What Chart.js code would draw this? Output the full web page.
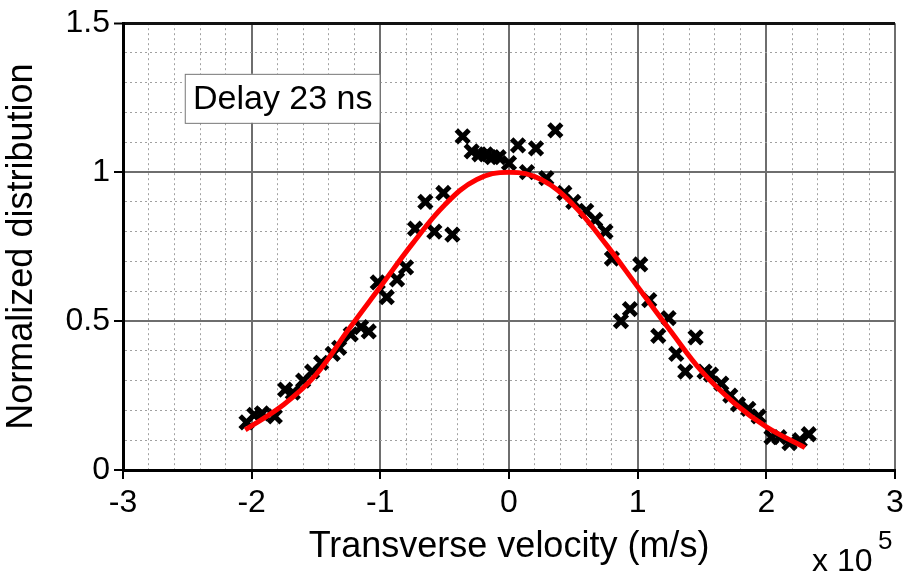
<!DOCTYPE html>
<html>
<head>
<meta charset="utf-8">
<script src="https://cdn.jsdelivr.net/npm/chart.js@4"></script>
<style>
  body { margin: 0; background: #fff; }
  canvas { display: block; }
</style>
</head>
<body>
<canvas id="velChart" width="909" height="575"></canvas>
<script>
// measured points (velocity in units of 1e5 m/s)
const pointX = [-2.04, -1.98, -1.92, -1.82, -1.74, -1.68, -1.60, -1.53, -1.46, -1.37, -1.32, -1.23, -1.15, -1.09,
    -1.02, -0.95, -0.87, -0.80, -0.73, -0.65, -0.58, -0.51, -0.44, -0.36, -0.29, -0.23, -0.18, -0.13, -0.08, 0.00,
    0.07, 0.14, 0.21, 0.29, 0.36, 0.43, 0.50, 0.60, 0.67, 0.75, 0.80, 0.87, 0.94, 1.02, 1.09, 1.16, 1.24, 1.30,
    1.37, 1.45, 1.52, 1.57, 1.65, 1.72, 1.78, 1.86, 1.94, 2.04, 2.10, 2.18, 2.26, 2.33];
const pointY = [0.16, 0.185, 0.19, 0.18, 0.27, 0.26, 0.30, 0.33, 0.36, 0.39, 0.41, 0.455, 0.48, 0.465,
    0.63, 0.58, 0.64, 0.68, 0.81, 0.90, 0.80, 0.93, 0.79, 1.12, 1.07, 1.06, 1.06, 1.05, 1.05, 1.03,
    1.09, 1.00, 1.08, 0.98, 1.14, 0.93, 0.90, 0.87, 0.84, 0.80, 0.71, 0.50, 0.54, 0.69, 0.57, 0.45, 0.51, 0.39,
    0.33, 0.445, 0.33, 0.32, 0.29, 0.25, 0.22, 0.205, 0.18, 0.11, 0.11, 0.09, 0.10, 0.12];

// fitted curve
const fitX = [-2.05, -1.75, -1.5, -1.25, -1.0, -0.75, -0.5, -0.25, 0, 0.25, 0.5, 0.75, 1.0, 1.25, 1.5, 1.75, 2.0, 2.3];
const fitY = [0.135, 0.22, 0.32, 0.47, 0.615, 0.76, 0.89, 0.975, 1.0, 0.975, 0.89, 0.76, 0.615, 0.47, 0.33, 0.225, 0.145, 0.075];

const xTitle = "Transverse velocity (m/s)";
const yTitle = "Normalized distribution";
const boxLabel = "Delay 23 ns";

const FONT = "'Liberation Sans', Arial, sans-serif";

const isMajor = (v, step) => Math.abs(v / step - Math.round(v / step)) < 1e-6;

const points = pointX.map((x, i) => ({ x: x, y: pointY[i] }));
const fit = fitX.map((x, i) => ({ x: x, y: fitY[i] }));

// "Delay 23 ns" box and the "x 10^5" multiplier
const extras = {
    id: "extras",
    afterDraw(chart) {
        const c = chart.ctx;
        const xs = chart.scales.x, ys = chart.scales.y;
        c.save();
        const bx = xs.getPixelForValue(-2.52), by = ys.getPixelForValue(1.33);
        c.fillStyle = "#fff";
        c.fillRect(bx, by, 195, 49);
        c.strokeStyle = "#777";
        c.lineWidth = 1;
        c.strokeRect(bx + 0.5, by + 0.5, 195, 49);
        c.fillStyle = "#000";
        c.font = "34px " + FONT;
        c.textBaseline = "middle";
        c.textAlign = "center";
        c.fillText(boxLabel, bx + 98, by + 26);

        c.textAlign = "left";
        c.textBaseline = "alphabetic";
        c.font = "32px " + FONT;
        c.fillText("x 10", 812, 571);
        c.font = "26px " + FONT;
        c.fillText("5", 878, 549);
        c.restore();
    }
};

const gridColor = (step, topVal) => ctx => {
    const v = ctx.tick ? ctx.tick.value : 0;
    if (Math.abs(v - topVal) < 1e-6) return "#111";
    return isMajor(v, step) ? "#6e6e6e" : "#a0a0a0";
};
const gridWidth = (step, topVal) => ctx => {
    const v = ctx.tick ? ctx.tick.value : 0;
    if (Math.abs(v - topVal) < 1e-6) return 3;
    return isMajor(v, step) ? 2 : 1;
};

const velChart = new Chart(document.getElementById("velChart").getContext("2d"), {
    type: "scatter",
    data: {
        datasets: [{
            label: "fit",
            data: fit,
            showLine: true,
            borderColor: "#ff0000",
            borderWidth: 5,
            pointRadius: 0,
            tension: 0.4,
            order: 0
        }, {
            label: "data",
            data: points,
            pointStyle: "crossRot",
            pointRadius: 9,
            borderColor: "#000",
            borderWidth: 5,
            backgroundColor: "#000",
            order: 1
        }]
    },
    options: {
        responsive: false,
        animation: false,
        layout: { padding: { top: 22, right: 14, left: 0, bottom: 0 } },
        plugins: { legend: { display: false }, tooltip: { enabled: false } },
        scales: {
            x: {
                type: "linear",
                min: -3,
                max: 3,
                ticks: {
                    stepSize: 0.2,
                    autoSkip: false,
                    maxRotation: 0,
                    color: "#000",
                    font: { family: FONT, size: 32 },
                    padding: 5,
                    callback: v => isMajor(v, 1) ? String(Math.round(v)) : ""
                },
                grid: {
                    color: gridColor(1, 99),
                    lineWidth: gridWidth(1, 99),
                    tickColor: ctx => ctx.tick && isMajor(ctx.tick.value, 1) ? "#000" : "rgba(0,0,0,0)",
                    tickWidth: 2,
                    tickLength: 9
                },
                border: { color: "#000", width: 3, dash: ctx => ctx.tick && !isMajor(ctx.tick.value, 1) ? [2, 3] : [] },
                title: {
                    display: true,
                    text: xTitle,
                    color: "#000",
                    font: { family: FONT, size: 36 },
                    padding: { top: 0, bottom: 6 }
                },
                afterFit: s => { s.height = 105; }
            },
            y: {
                min: 0,
                max: 1.5,
                ticks: {
                    stepSize: 0.1,
                    autoSkip: false,
                    color: "#000",
                    font: { family: FONT, size: 32 },
                    padding: 4,
                    callback: v => isMajor(v, 0.5) ? String(Math.round(v * 10) / 10) : ""
                },
                grid: {
                    color: gridColor(0.5, 1.5),
                    lineWidth: gridWidth(0.5, 1.5),
                    tickColor: ctx => ctx.tick && isMajor(ctx.tick.value, 0.5) ? "#000" : "rgba(0,0,0,0)",
                    tickWidth: 2,
                    tickLength: 9
                },
                border: { color: "#000", width: 3, dash: ctx => ctx.tick && !isMajor(ctx.tick.value, 0.5) ? [2, 3] : [] },
                title: {
                    display: true,
                    text: yTitle,
                    color: "#000",
                    font: { family: FONT, size: 36 },
                    padding: { top: 0, bottom: 0 }
                },
                afterFit: s => { s.width = 123; }
            }
        }
    },
    plugins: [extras]
});
</script>
</body>
</html>
